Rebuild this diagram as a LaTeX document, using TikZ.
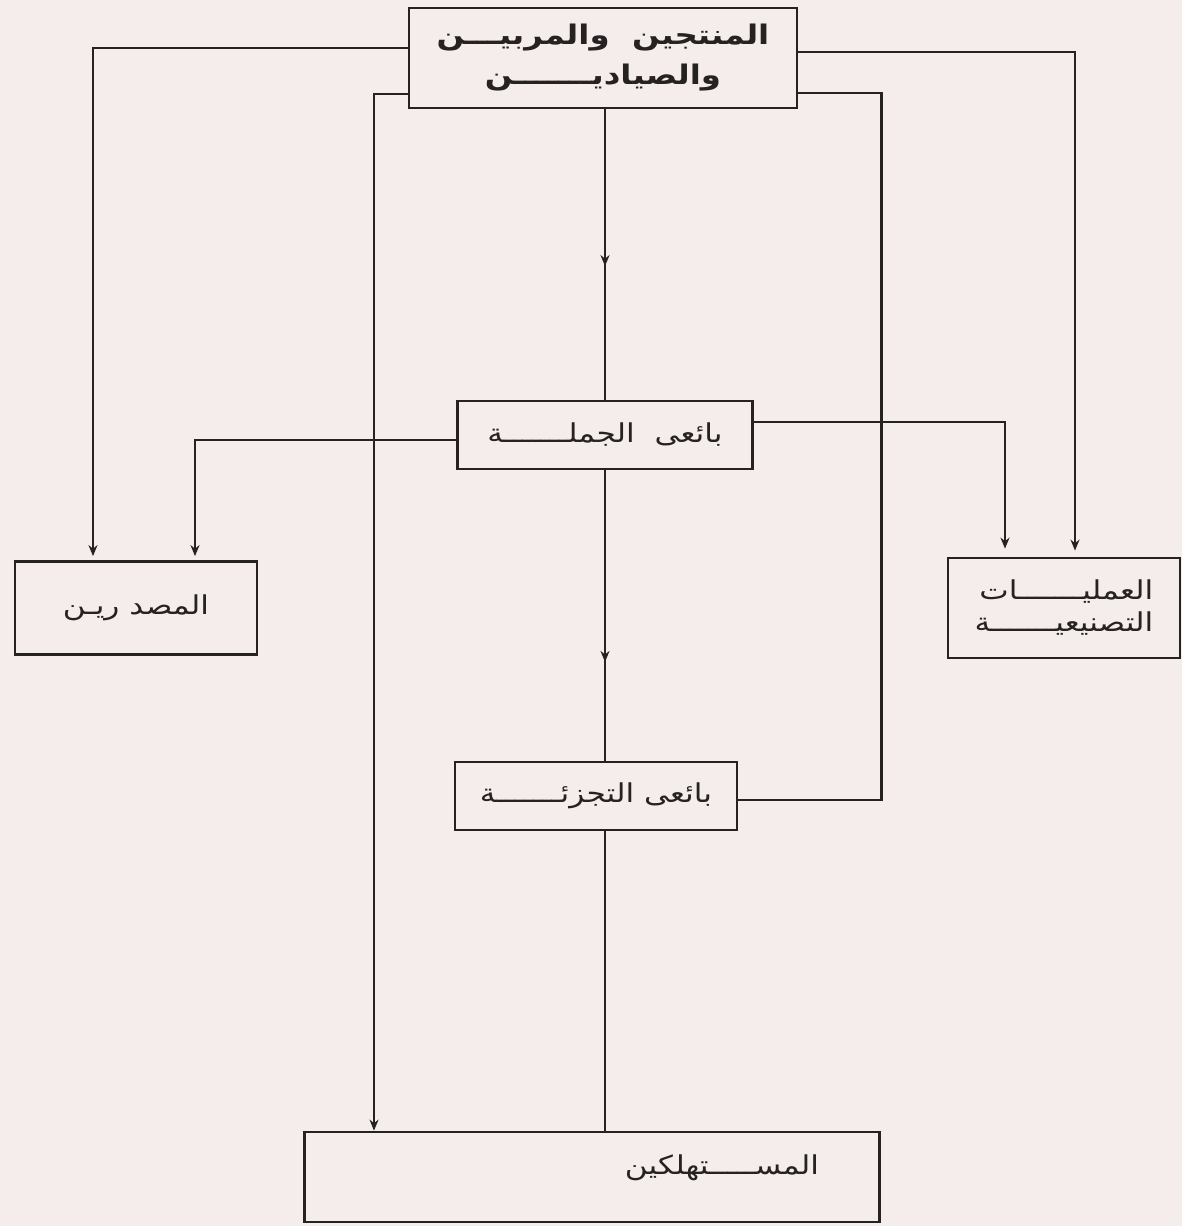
\documentclass[tikz,border=0pt]{standalone}
\usepackage{fontspec}
\newfontfamily\arabicfont[Script=Arabic,FakeStretch=1.2]{DejaVu Sans}
\TeXXeTstate=1
\usetikzlibrary{arrows.meta,decorations.markings}
\definecolor{paper}{RGB}{245,237,236}
\definecolor{ink}{RGB}{38,34,34}
\begin{document}
\begin{tikzpicture}[x=1pt,y=-1pt,
  box/.style={draw=ink,line width=2.8pt,rectangle,inner sep=0pt,text=ink,
    font=\arabicfont\fontsize{26}{32}\selectfont},
  label/.style={inner sep=0pt,text=ink,font=\arabicfont\fontsize{26}{32}\selectfont},
  link/.style={draw=ink,line width=2.5pt},
  arr/.style={link,-{Stealth[length=11pt,width=9pt]}},
  midarr/.style={link,postaction={decorate},
    decoration={markings,mark=at position #1 with {\arrow{Stealth[length=11pt,width=9pt]}}}}]
\fill[paper] (0,0) rectangle (1182,1226);
\useasboundingbox (0,0) rectangle (1182,1226);

% boxes
\node[box,minimum width=388pt,minimum height=100pt,align=center,
  font=\arabicfont\bfseries\fontsize{27}{40}\selectfont] (top) at (603,58)
  {\beginR المنتجين\ \ والمربيـــن\endR\\\beginR والصياديـــــــن\endR};
\node[box,minimum width=295pt,minimum height=68pt] (whs) at (605,435)
  {\beginR بائعى\ \ الجملـــــــة\endR};
\node[box,minimum width=282pt,minimum height=68pt] (ret) at (596,796)
  {\beginR بائعى التجزئـــــــة\endR};
\node[box,minimum width=242pt,minimum height=93pt] (msd) at (136,608)
  {\beginR المصد ريـن\endR};
\node[box,minimum width=232pt,minimum height=100pt,align=right] (ind) at (1064,608)
  {\beginR العمليـــــــات\endR\\\beginR التصنيعيـــــــة\endR};
\node[box,minimum width=575pt,minimum height=90pt] (cons) at (592,1177) {};
\node[label] (consT) at (722,1168) {\beginR المســـــتهلكين\endR};

% connectors from the top box
\draw[arr,shorten >=4pt] ([yshift=10pt]top.west) -| ([xshift=-43pt]msd.north);
\draw[arr] ([yshift=-36pt]top.west) -| ([xshift=-218pt]cons.north);
\draw[arr,shorten >=6pt] ([yshift=6pt]top.east) -| ([xshift=11pt]ind.north);
\draw[link] ([yshift=-35pt]top.east) -- ++(83,0) |- ([yshift=-4pt]ret.east);
\draw[midarr=0.54] (whs.north |- top.south) -- (whs.north);

% connectors from wholesale
\draw[arr,shorten >=4pt] ([yshift=-5pt]whs.west) -| ([xshift=59pt]msd.north);
\draw[arr,shorten >=8pt] ([yshift=13pt]whs.east) -| ([xshift=-59pt]ind.north);
\draw[midarr=0.66] (whs.south) -- (whs.south |- ret.north);

% retail to consumers
\draw[link] (ret.south -| whs.south) -- (cons.north -| whs.south);
\end{tikzpicture}
\end{document}
